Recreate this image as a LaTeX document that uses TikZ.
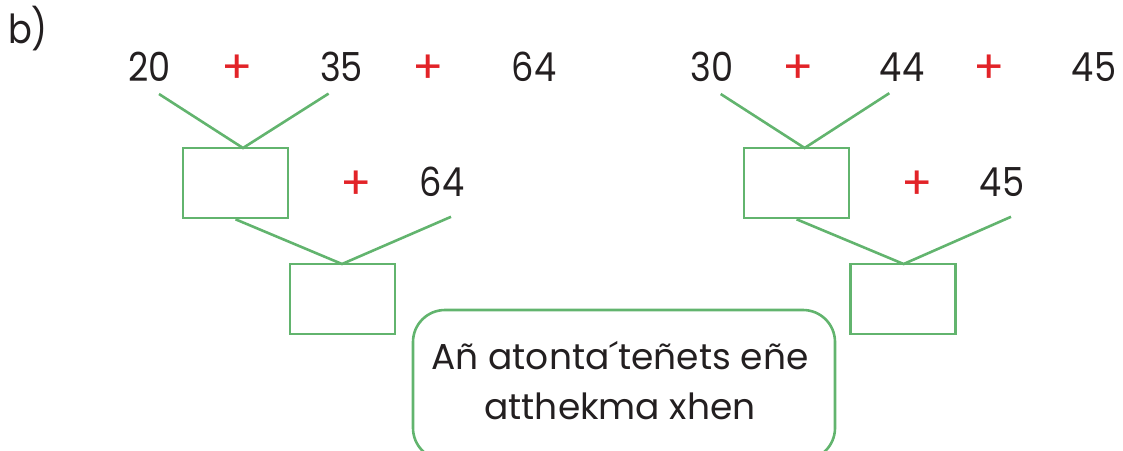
\documentclass[tikz,border=0pt]{standalone}
\usepackage{fontspec}
\setmainfont{Poppins}
\definecolor{boxgreen}{RGB}{98,180,110}
\definecolor{plusred}{RGB}{226,35,40}
\definecolor{ink}{RGB}{35,31,32}
\newfontfamily\digitfont[FakeStretch=0.88]{Poppins}
\tikzset{
  num/.style={text=ink, font=\digitfont\fontsize{40}{44}\selectfont, inner sep=0pt},
  plus/.style={text=plusred, font=\fontsize{46}{50}\selectfont, inner sep=0pt},
  sumbox/.style={draw=boxgreen, line width=2.6pt, minimum width=105pt, minimum height=70pt, inner sep=0pt},
  link/.style={draw=boxgreen, line width=2.6pt},
  note/.style={draw=boxgreen, line width=2.6pt, rounded corners=32pt},
}
\begin{document}
\begin{tikzpicture}[x=1pt, y=-1pt]
\useasboundingbox (0,0) rectangle (1123,450);
\node[num] (lbl) at (28,29) {b)};

% left exercise
\node[num] (a1) at (149.5,67) {20};
\node[plus] (p1) at (237,69) {+};
\node[num] (a2) at (341.5,67) {35};
\node[plus] (p2) at (428,69) {+};
\node[num] (a3) at (534,67) {64};
\node[sumbox] (b1) at (235.5,183) {};
\node[plus] (p3) at (356.5,185) {+};
\node[num] (a4) at (442,182) {64};
\node[sumbox] (b2) at (342.5,299) {};
\coordinate (s1) at (159,94);
\coordinate (s2) at (328.6,93.6);
\coordinate (j1) at (243,148);
\coordinate (s3) at (451,216.8);
\coordinate (j2) at (342,264);
\draw[link] (s1) -- (j1) -- (s2);
\draw[link] (b1.south) -- (j2) -- (s3);

% right exercise
\node[num] (c1) at (712,67) {30};
\node[plus] (q1) at (798,69) {+};
\node[num] (c2) at (902,67) {44};
\node[plus] (q2) at (989,69) {+};
\node[num] (c3) at (1094,67) {45};
\node[sumbox] (d1) at (796.6,183) {};
\node[plus] (q3) at (917,185) {+};
\node[num] (c4) at (1002,182) {45};
\node[sumbox] (d2) at (903.2,299) {};
\coordinate (r1) at (720.7,94);
\coordinate (r2) at (889.3,93.2);
\coordinate (k1) at (804.6,148);
\coordinate (r3) at (1011,216.8);
\coordinate (k2) at (903.6,264);
\draw[link] (r1) -- (k1) -- (r2);
\draw[link] (d1.south) -- (k2) -- (r3);

% speech box
\draw[note] (413,310) rectangle (835,460);
\node[text=ink, font=\fontsize{36}{50}\selectfont, align=center, inner sep=0pt] (msg) at (620,381)
  {Añ atonta´teñets eñe\\atthekma xhen};
\end{tikzpicture}
\end{document}
